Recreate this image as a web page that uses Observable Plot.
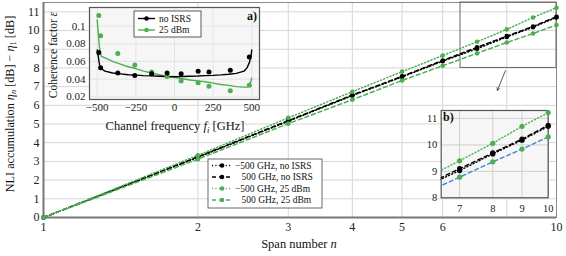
<!DOCTYPE html>
<html><head><meta charset="utf-8">
<script src="https://cdn.jsdelivr.net/npm/d3@7"></script>
<script src="https://cdn.jsdelivr.net/npm/@observablehq/plot@0.6"></script>
<style>
body{margin:0;background:#fff;}
#wrap{position:relative;width:566px;height:256px;font-family:"Liberation Serif",serif;overflow:hidden;}
#wrap svg{position:absolute;overflow:visible;}
</style></head><body><div id="wrap"></div>
<script>
// ---------- main chart data ----------
const spans = [1, 2, 3, 4, 5, 6, 7, 8, 9, 10];
const negNoISRS = [0, 3.22, 5.15, 6.52, 7.52, 8.36, 9.03, 9.66, 10.18, 10.70];
const posNoISRS = [0, 3.25, 5.18, 6.55, 7.55, 8.40, 9.10, 9.70, 10.22, 10.74];
const neg25 = [0, 3.33, 5.33, 6.73, 7.80, 8.66, 9.40, 10.06, 10.70, 11.22];
const pos25 = [0, 3.12, 5.02, 6.30, 7.33, 8.12, 8.78, 9.36, 9.84, 10.30];
const xTicks = [1, 2, 3, 4, 5, 6, 8, 10];
const yTicks = [0, 1, 2, 3, 4, 5, 6, 7, 8, 9, 10, 11];
const seriesNames = ["−500 GHz, no ISRS", "500 GHz, no ISRS", "−500 GHz, 25 dBm", "500 GHz, 25 dBm"];

// ---------- inset a data ----------
const freqPts = [-490, -478, -367, -257, -148, -48, 43, 153, 223, 361, 484];
const epsNoISRSPts = [0.070, 0.053, 0.047, 0.044, 0.046, 0.047, 0.046, 0.049, 0.048, 0.050, 0.065];
const eps25Pts = [0.112, 0.089, 0.069, 0.056, 0.048, 0.043, 0.038, 0.036, 0.032, 0.027, 0.033];
const freqCurve = [-500, -495, -485, -475, -450, -400, -350, -300, -250, -200, -150, -100, -50, 0, 50, 100, 150, 200, 250, 300, 350, 400, 450, 470, 485, 495, 500];
const epsNoISRSCurve = [0.073, 0.068, 0.056, 0.052, 0.049, 0.047, 0.046, 0.045, 0.0445, 0.044, 0.0437, 0.0433, 0.043, 0.0428, 0.043, 0.0432, 0.0435, 0.044, 0.0443, 0.0448, 0.0455, 0.0465, 0.049, 0.053, 0.059, 0.066, 0.073];
const eps25Curve = [0.107, 0.095, 0.075, 0.066, 0.064, 0.060, 0.057, 0.054, 0.052, 0.049, 0.047, 0.045, 0.043, 0.042, 0.0405, 0.039, 0.038, 0.037, 0.0355, 0.034, 0.033, 0.0315, 0.031, 0.031, 0.034, 0.038, 0.041];
const freqTicks = [-500, -250, 0, 250, 500];
const epsTicks = [0.02, 0.04, 0.06, 0.08, 0.1];

// ---------- inset b ----------
const zoomX = [6.5, 10];
const zoomY = [8, 11.3];
const zoomXTicks = [7, 8, 9, 10];
const zoomYTicks = [8, 9, 10, 11];

const GREEN = "#4caf50", BLUE = "#3f86d6", BLACK = "#000";
const DOT = "1.1,2.3", DASH = "4,3";
const FONT = '"Liberation Serif", serif';

const mainSeries = [
  {name: seriesNames[0], values: negNoISRS, color: BLACK, dash: DOT, zoomColor: BLACK},
  {name: seriesNames[1], values: posNoISRS, color: BLACK, dash: DASH, zoomColor: BLACK},
  {name: seriesNames[2], values: neg25, color: GREEN, dash: DOT, zoomColor: GREEN},
  {name: seriesNames[3], values: pos25, color: GREEN, dash: DASH, zoomColor: BLUE}
];
const rowsOf = s => spans.map((n, i) => ({n, v: s.values[i]}));

const wrap = document.getElementById("wrap");
const minus = d => (d < 0 ? "−" + (-d) : String(d));

// ---------- main plot ----------
const mainMarks = [
  Plot.gridX(xTicks, {stroke: "#d6d6d6", strokeOpacity: 1}),
  Plot.gridY(yTicks, {stroke: "#d6d6d6", strokeOpacity: 1}),
  Plot.frame({stroke: "#8a8a8a"}),
  Plot.ruleY([0], {stroke: "#777", strokeWidth: 2}),
  Plot.ruleX([1], {stroke: "#777", strokeWidth: 2}),
  Plot.axisX(xTicks, {tickSize: 0, tickPadding: 5, label: null, fontSize: 12, tickFormat: d => String(d)}),
  Plot.axisY(yTicks, {tickSize: 0, tickPadding: 4, label: null, fontSize: 12}),
  Plot.rect([{x1: zoomX[0], x2: zoomX[1], y1: zoomY[0], y2: 11.5}], {x1: "x1", x2: "x2", y1: "y1", y2: "y2", fill: "none", stroke: "#666", strokeWidth: 1}),
  Plot.arrow([{x1: 7.95, y1: 7.85, x2: 7.67, y2: 6.8}], {x1: "x1", y1: "y1", x2: "x2", y2: "y2", stroke: "#333", strokeWidth: 0.8, headLength: 5})
];
for (const s of mainSeries) {
  mainMarks.push(Plot.line(rowsOf(s), {x: "n", y: "v", stroke: s.color, strokeWidth: 1.5, strokeDasharray: s.dash}));
}
for (const s of mainSeries) {
  mainMarks.push(Plot.dot(rowsOf(s), {x: "n", y: "v", fill: s.color, r: 2.3}));
}
const main = Plot.plot({
  width: 566, height: 256, marginLeft: 43, marginRight: 10, marginTop: 2, marginBottom: 39,
  style: {fontFamily: FONT, fontSize: "12px", background: "transparent", color: "#222"},
  x: {type: "log", domain: [1, 10], label: null},
  y: {domain: [0, 11.5], label: null},
  marks: mainMarks
});
main.style.left = "0px"; main.style.top = "0px";
wrap.appendChild(main);

const msvg = d3.select(main);
// y label
{
  const t = msvg.append("text").attr("transform", "translate(10,104) rotate(-90)")
    .attr("text-anchor", "middle").attr("dominant-baseline", "central")
    .style("font-size", "12.2px").style("font-family", FONT).attr("fill", "#111");
  t.append("tspan").text("NLI accumulation ");
  t.append("tspan").attr("font-style", "italic").text("η");
  t.append("tspan").attr("font-style", "italic").attr("font-size", "8.5px").attr("dy", 3).text("n");
  t.append("tspan").attr("dy", -3).text(" [dB] − ");
  t.append("tspan").attr("font-style", "italic").text("η");
  t.append("tspan").attr("font-size", "8.5px").attr("dy", 3).text("1");
  t.append("tspan").attr("dy", -3).text(" [dB]");
}
// x label
{
  const t = msvg.append("text").attr("x", 299).attr("y", 248).attr("text-anchor", "middle")
    .style("font-size", "12.5px").style("font-family", FONT).attr("fill", "#111");
  t.append("tspan").text("Span number ");
  t.append("tspan").attr("font-style", "italic").text("n");
}
// main legend
{
  const g = msvg.append("g").style("font-family", FONT);
  g.append("rect").attr("x", 208).attr("y", 159).attr("width", 114).attr("height", 49)
    .attr("fill", "#fff").attr("stroke", "#444").attr("stroke-width", 0.8);
  mainSeries.forEach((s, i) => {
    const y = 165.5 + i * 11.5;
    g.append("line").attr("x1", 212).attr("x2", 232).attr("y1", y).attr("y2", y)
      .attr("stroke", s.color).attr("stroke-width", 1.5).attr("stroke-dasharray", s.dash);
    g.append("circle").attr("cx", 222).attr("cy", y).attr("r", 2.3).attr("fill", s.color);
    g.append("text").attr("x", s.name.startsWith("−") ? 235 : 241.5).attr("y", y)
      .attr("text-anchor", "start").attr("dominant-baseline", "central")
      .style("font-size", "9.5px").attr("fill", "#111").text(s.name);
  });
}

// ---------- inset a ----------
const curveRows = (vals) => freqCurve.map((f, i) => ({f, e: vals[i]}));
const ptRows = (vals) => freqPts.map((f, i) => ({f, e: vals[i]}));
const insetA = Plot.plot({
  width: 225, height: 135, marginLeft: 49, marginRight: 6, marginTop: 7, marginBottom: 36,
  style: {fontFamily: FONT, fontSize: "10.5px", background: "transparent", color: "#222"},
  x: {domain: [-550, 550], label: null},
  y: {domain: [0.017, 0.121], label: null},
  marks: [
    Plot.frame({fill: "#f6f6f6", stroke: "none"}),
    Plot.gridX(freqTicks, {stroke: "#e4e4e4", strokeOpacity: 1}),
    Plot.gridY(epsTicks, {stroke: "#e4e4e4", strokeOpacity: 1}),
    Plot.frame({stroke: "#555", strokeWidth: 1.2}),
    Plot.axisX(freqTicks, {tickSize: 0, tickPadding: 4, label: null, tickFormat: minus, fontSize: 11}),
    Plot.axisY(epsTicks, {tickSize: 0, tickPadding: 4, label: null, tickFormat: d => String(d), fontSize: 11}),
    Plot.line(curveRows(eps25Curve), {x: "f", y: "e", stroke: GREEN, strokeWidth: 1.4}),
    Plot.line(curveRows(epsNoISRSCurve), {x: "f", y: "e", stroke: BLACK, strokeWidth: 1.4}),
    Plot.dot(ptRows(eps25Pts), {x: "f", y: "e", fill: GREEN, r: 2.5}),
    Plot.dot(ptRows(epsNoISRSPts), {x: "f", y: "e", fill: BLACK, r: 2.5})
  ]
});
insetA.style.left = "40px"; insetA.style.top = "0px";
wrap.appendChild(insetA);
{
  const s = d3.select(insetA);
  const yl = s.append("text").attr("transform", "translate(13,55) rotate(-90)")
    .attr("text-anchor", "middle").attr("dominant-baseline", "central")
    .style("font-size", "11.5px").style("font-family", FONT).attr("fill", "#111");
  yl.append("tspan").text("Coherence factor ");
  yl.append("tspan").attr("font-style", "italic").text("ε");
  const xl = s.append("text").attr("x", 135).attr("y", 130).attr("text-anchor", "middle")
    .style("font-size", "12.5px").style("font-family", FONT).attr("fill", "#111");
  xl.append("tspan").text("Channel frequency ");
  xl.append("tspan").attr("font-style", "italic").text("f");
  xl.append("tspan").attr("font-style", "italic").attr("font-size", "8.5px").attr("dy", 3).text("i");
  xl.append("tspan").attr("dy", -3).text(" [GHz]");
  s.append("text").attr("x", 217).attr("y", 20).attr("text-anchor", "end")
    .style("font-size", "12px").style("font-weight", "bold").style("font-family", FONT).attr("fill", "#111").text("a)");
  const g = s.append("g").style("font-family", FONT);
  g.append("rect").attr("x", 94).attr("y", 11).attr("width", 67).attr("height", 26)
    .attr("fill", "#fff").attr("stroke", "#333").attr("stroke-width", 0.8);
  [["no ISRS", BLACK], ["25 dBm", GREEN]].forEach(([lab, c], i) => {
    const y = 18.5 + i * 11.5;
    g.append("line").attr("x1", 98).attr("x2", 115).attr("y1", y).attr("y2", y).attr("stroke", c).attr("stroke-width", 1.4);
    g.append("circle").attr("cx", 106.5).attr("cy", y).attr("r", 2.3).attr("fill", c);
    g.append("text").attr("x", 119).attr("y", y).attr("text-anchor", "start").attr("dominant-baseline", "central")
      .style("font-size", "9.5px").attr("fill", "#111").text(lab);
  });
}

// ---------- inset b ----------
const bMarks = [
  Plot.frame({fill: "#f6f6f6", stroke: "none"}),
  Plot.gridX(zoomXTicks, {stroke: "#cfcfcf", strokeOpacity: 1}),
  Plot.gridY(zoomYTicks, {stroke: "#cfcfcf", strokeOpacity: 1}),
  Plot.frame({stroke: "#555", strokeWidth: 1.2}),
  Plot.text(zoomXTicks, {x: d => d, y: () => zoomY[0], text: d => String(d), dy: 11, fontSize: 10.5, fill: "#222"}),
  Plot.text(zoomYTicks, {x: () => zoomX[0], y: d => d, text: d => String(d), dx: -4, textAnchor: "end", fontSize: 10.5, fill: "#222"})
];
for (const s of mainSeries) {
  bMarks.push(Plot.line(rowsOf(s), {x: "n", y: "v", stroke: s.zoomColor, strokeWidth: 1.4, strokeDasharray: s.dash, clip: true}));
}
for (const s of mainSeries) {
  bMarks.push(Plot.dot(rowsOf(s).filter(d => d.n >= 7), {x: "n", y: "v", fill: s.color, r: 2.6}));
}
const insetB = Plot.plot({
  width: 138, height: 120, marginLeft: 20.7, marginRight: 10.3, marginTop: 10, marginBottom: 22.7,
  style: {fontFamily: FONT, fontSize: "10.5px", background: "transparent", color: "#222"},
  x: {type: "log", domain: zoomX, label: null, axis: null},
  y: {domain: zoomY, label: null, axis: null},
  marks: bMarks
});
insetB.style.left = "420px"; insetB.style.top = "100px";
wrap.appendChild(insetB);
d3.select(insetB).append("text").attr("x", 23).attr("y", 12).attr("text-anchor", "start").attr("dominant-baseline", "hanging")
  .style("font-size", "12px").style("font-weight", "bold").style("font-family", FONT).attr("fill", "#111").text("b)");
</script>
</body></html>
